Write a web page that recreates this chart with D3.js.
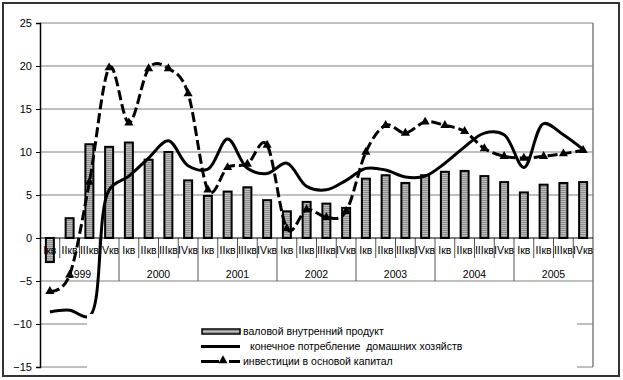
<!DOCTYPE html>
<html><head><meta charset="utf-8">
<script src="https://cdn.jsdelivr.net/npm/d3@7"></script>
<style>
html,body{margin:0;padding:0;background:#fff;}
svg{display:block;font-family:"Liberation Sans",Arial,sans-serif;}
</style></head>
<body>
<svg id="chart" width="623" height="380"></svg>
<script>
const years = ["1999","2000","2001","2002","2003","2004","2005"];
const quarters = ["Iкв","IIкв","IIIкв","IVкв"];
const gdp = [-2.8, 2.3, 10.9, 10.6, 11.1, 9.1, 10.0, 6.7, 4.9, 5.4, 5.9, 4.4, 3.1, 4.2, 4.0, 3.5, 6.9, 7.3, 6.4, 7.3, 7.7, 7.8, 7.2, 6.5, 5.3, 6.2, 6.4, 6.5];
const consumption = [-8.6, -8.4, -9.1, 5.6, 7.2, 9.3, 11.3, 8.4, 8.0, 11.5, 8.1, 7.5, 8.7, 6.0, 5.6, 6.7, 8.1, 7.9, 7.1, 7.2, 8.7, 10.6, 12.2, 12.0, 8.2, 13.3, 12.0, 10.3];
const investment = [-6.2, -4.3, 6.5, 19.8, 13.4, 19.7, 19.7, 16.8, 5.6, 8.2, 8.6, 10.8, 1.1, 3.3, 2.4, 3.1, 10.0, 13.1, 12.2, 13.5, 13.1, 12.4, 10.4, 9.5, 9.3, 9.5, 9.8, 10.2];
const yTicks = [25, 20, 15, 10, 5, 0, -5, -10, -15];
const legendLabels = ["валовой внутренний продукт", "конечное потребление  домашних хозяйств", "инвестиции в основой капитал"];

const categories = [];
years.forEach(y => quarters.forEach(q => categories.push({year: y, q: q})));

const svg = d3.select("#chart");
const L = 40, R = 593, T = 23, B = 367;

svg.append("rect").attr("x",0).attr("y",0).attr("width",623).attr("height",380).attr("fill","#fff");

const x = d3.scaleBand().domain(d3.range(categories.length)).range([L, R]);
const y = d3.scaleLinear().domain([-15, 25]).range([B, T]);
const cx = i => x(i) + x.bandwidth()/2;

// pattern for bars
const defs = svg.append("defs");
const pat = defs.append("pattern").attr("id","barpat").attr("patternUnits","userSpaceOnUse").attr("width",4).attr("height",2);
pat.append("rect").attr("width",4).attr("height",2).attr("fill","#bdbdbd");
pat.append("rect").attr("width",4).attr("height",1).attr("fill","#8f8f8f");

// gridlines
svg.append("g").selectAll("line").data(yTicks.filter(t => t !== 0)).join("line")
  .attr("x1", L).attr("x2", R).attr("y1", d => y(d)).attr("y2", d => y(d))
  .attr("stroke", "#808080").attr("stroke-width", 1);

// right border
svg.append("line").attr("x1", R).attr("x2", R).attr("y1", y(25)).attr("y2", y(-15))
  .attr("stroke", "#808080").attr("stroke-width", 1.5);

// y axis
const yAxis = d3.axisLeft(y).tickValues(yTicks).tickSize(4).tickPadding(4);
const ya = svg.append("g").attr("transform", `translate(${L},0)`).call(yAxis);
ya.select(".domain").attr("stroke","#000").attr("stroke-width",1.5);
ya.selectAll(".tick line").attr("stroke","#000");
ya.selectAll(".tick text").attr("font-size","11px").attr("fill","#000").attr("font-family","Liberation Sans, Arial, sans-serif");

// category separators
const sepG = svg.append("g");
for (let k = 1; k < categories.length; k++) {
  const xx = L + k * x.step();
  const isYear = k % 4 === 0;
  sepG.append("line").attr("x1", xx).attr("x2", xx)
    .attr("y1", y(0)).attr("y2", isYear ? y(-5) : y(0) + 20)
    .attr("stroke", "#555").attr("stroke-width", 1);
}

// bars
svg.append("g").selectAll("rect").data(gdp).join("rect")
  .attr("x", (d,i) => cx(i) - 4)
  .attr("width", 8)
  .attr("y", d => Math.min(y(d), y(0)))
  .attr("height", d => Math.abs(y(d) - y(0)))
  .attr("fill", "url(#barpat)")
  .attr("stroke", "#000").attr("stroke-width", 2);

// zero axis line
svg.append("line").attr("x1", L).attr("x2", R).attr("y1", y(0)).attr("y2", y(0))
  .attr("stroke", "#000").attr("stroke-width", 1.2);

// category labels
svg.append("g").selectAll("text").data(categories).join("text")
  .attr("x", (d,i) => cx(i)).attr("y", y(0) + 16)
  .attr("text-anchor","middle").attr("font-size","10.5px").attr("fill","#000")
  .text(d => d.q);
svg.append("g").selectAll("text").data(years).join("text")
  .attr("x", (d,i) => L + (i*4 + 2) * x.step()).attr("y", y(0) + 40)
  .attr("text-anchor","middle").attr("font-size","10.5px").attr("fill","#000")
  .text(d => d);

// lines
const lineC = d3.line().x((d,i) => cx(i)).y(d => y(d)).curve(d3.curveCatmullRom.alpha(0.5));
const lineI = d3.line().x((d,i) => cx(i)).y(d => y(d)).curve(d3.curveCatmullRom.alpha(0));
svg.append("path").datum(consumption).attr("d", lineC)
  .attr("fill","none").attr("stroke","#000").attr("stroke-width",3);
svg.append("path").datum(investment).attr("d", lineI)
  .attr("fill","none").attr("stroke","#000").attr("stroke-width",3)
  .attr("stroke-dasharray","10,4");
const tri = d3.symbol().type(d3.symbolTriangle).size(36);
svg.append("g").selectAll("path").data(investment).join("path")
  .attr("transform", (d,i) => `translate(${cx(i)},${y(d)})`)
  .attr("d", tri).attr("fill","#000");

// legend
svg.append("rect").attr("x", 87).attr("y", 314).attr("width", 490).attr("height", 57).attr("fill","#fff");
const lg = svg.append("g");
const ly = [331.5, 346.5, 361.5];
lg.append("rect").attr("x", 202).attr("y", ly[0]-2.5).attr("width", 38).attr("height", 5)
  .attr("fill","url(#barpat)").attr("stroke","#000").attr("stroke-width",1.5);
lg.append("line").attr("x1", 201).attr("x2", 240).attr("y1", ly[1]).attr("y2", ly[1])
  .attr("stroke","#000").attr("stroke-width",3);
lg.append("line").attr("x1", 201).attr("x2", 219).attr("y1", ly[2]).attr("y2", ly[2])
  .attr("stroke","#000").attr("stroke-width",3);
lg.append("line").attr("x1", 229).attr("x2", 240).attr("y1", ly[2]).attr("y2", ly[2])
  .attr("stroke","#000").attr("stroke-width",3);
lg.append("path").attr("transform", `translate(223,${ly[2]-1})`).attr("d", tri).attr("fill","#000");
const lx = [243, 250, 243];
legendLabels.forEach((t,i) => {
  lg.append("text").attr("x", lx[i]).attr("y", ly[i]).attr("dy","0.35em")
    .attr("font-size","10.5px").attr("fill","#000").style("white-space","pre").attr("xml:space","preserve").text(t);
});

// outer frame
svg.append("rect").attr("x", 3).attr("y", 3).attr("width", 616).attr("height", 373)
  .attr("fill","none").attr("stroke","#333").attr("stroke-width",2);
</script>
</body></html>
